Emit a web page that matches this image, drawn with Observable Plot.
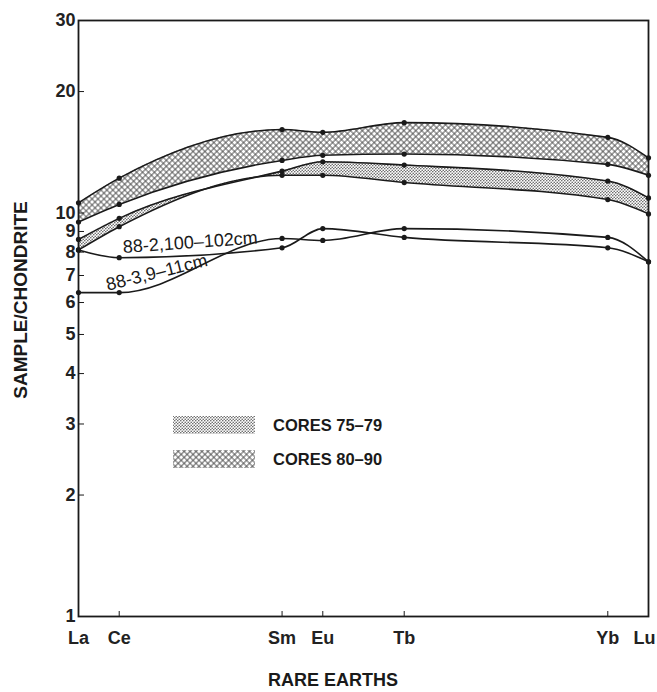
<!DOCTYPE html>
<html><head><meta charset="utf-8">
<script src="https://cdn.jsdelivr.net/npm/d3@7"></script>
<script src="https://cdn.jsdelivr.net/npm/@observablehq/plot@0.6"></script>
<style>
body{margin:0;background:#fff;}
#chart{width:657px;height:692px;}
svg [aria-label="x-axis tick label"] text{font-size:18px;font-weight:bold;fill:#222;}
</style></head><body><div id="chart"></div>
<script>
// Rare earth elements and their atomic numbers (x positions)
const elements = ["La", "Ce", "Sm", "Eu", "Tb", "Yb", "Lu"];
const atomic = [57, 58, 62, 63, 65, 70, 71];
// Cores 80-90 envelope (crosshatch band)
const cores8090Upper = [10.6, 12.2, 16.1, 15.85, 16.75, 15.4, 13.7];
const cores8090Lower = [9.5, 10.5, 13.5, 13.9, 14.0, 13.2, 12.4];
// Cores 75-79 envelope (stippled band)
const cores7579Upper = [8.6, 9.7, 12.7, 13.4, 13.15, 12.0, 10.9];
const cores7579Lower = [8.1, 9.25, 12.4, 12.4, 11.9, 10.8, 9.95];
// Individual samples
const s88_2 = [8.1, 7.75, 8.2, 9.15, 8.7, 8.2, 7.57];
const s88_3 = [6.35, 6.35, 8.65, 8.55, 9.15, 8.7, 7.57];
// Axis ticks
const yTicks = [1, 2, 3, 4, 5, 6, 7, 8, 9, 10, 20, 30];
// Texts
const legendLabels = ["CORES 75–79", "CORES 80–90"];
const lineLabels = [
  {text: "88-2,100–102cm", x: 58.1, y: 7.96, rotate: -4},
  {text: "88-3,9–11cm", x: 57.72, y: 6.42, rotate: -14}
];

const table = elements.map((el, i) => ({
  el, z: atomic[i],
  u80: cores8090Upper[i], l80: cores8090Lower[i],
  u75: cores7579Upper[i], l75: cores7579Lower[i],
  a: s88_2[i], b: s88_3[i]
}));
const seriesKeys = ["u80", "l80", "u75", "l75", "a", "b"];
const long = seriesKeys.flatMap(k => table.map(d => ({key: k, z: d.z, v: d[k]})));

const ink = "#1a1a1a";
const font = "'Liberation Sans', Arial, sans-serif";
const plot = Plot.plot({
  width: 657, height: 692,
  marginTop: 20, marginBottom: 76, marginLeft: 78, marginRight: 9,
  style: {fontFamily: font, background: "#fff", color: ink},
  x: {domain: [57, 71]},
  y: {type: "log", domain: [1, 30]},
  marks: [
    Plot.areaY(table, {x: "z", y1: "l80", y2: "u80", curve: "monotone-x", fill: "url(#hatch80)"}),
    Plot.areaY(table, {x: "z", y1: "l75", y2: "u75", curve: "monotone-x", fill: "url(#stip75)"}),
    Plot.line(long, {x: "z", y: "v", z: "key", curve: "monotone-x", stroke: ink, strokeWidth: 1.6}),
    Plot.dot(long, {x: "z", y: "v", r: 2.6, fill: ink, stroke: "none"}),
    Plot.text(lineLabels, {x: "x", y: "y", text: "text", rotate: "rotate", textAnchor: "start", lineAnchor: "bottom", fontSize: 18, fill: ink}),
    Plot.frame({stroke: ink, strokeWidth: 1.8}),
    Plot.axisX({ticks: atomic, tickFormat: z => elements[atomic.indexOf(z)], tickSize: -5, tickPadding: 20, label: null, fontSize: 18, fontWeight: "bold"}),
    Plot.axisY({ticks: yTicks, tickFormat: () => "", tickSize: -6, tickPadding: 9, label: null}),
    Plot.text(yTicks, {y: d => d, frameAnchor: "left", text: d => String(d), textAnchor: "end", dx: -3, fontSize: 18, fontWeight: "bold", fill: "#222"})
  ]
});

const svg = d3.select(plot);
const defs = svg.insert("defs", ":first-child");
const h = defs.append("pattern").attr("id", "hatch80").attr("patternUnits", "userSpaceOnUse")
  .attr("width", 4.2).attr("height", 4.2).attr("patternTransform", "rotate(45)");
h.append("rect").attr("width", 4.2).attr("height", 4.2).attr("fill", "#fff");
h.append("path").attr("d", "M0,0H4.2M0,4.2H4.2M0,0V4.2M4.2,0V4.2").attr("stroke", "#4a4a4a").attr("stroke-width", 0.9);
const s = defs.append("pattern").attr("id", "stip75").attr("patternUnits", "userSpaceOnUse")
  .attr("width", 3).attr("height", 3);
s.append("rect").attr("width", 3).attr("height", 3).attr("fill", "#fff");
s.append("circle").attr("cx", 0.75).attr("cy", 0.75).attr("r", 0.8).attr("fill", "#666");
s.append("circle").attr("cx", 2.25).attr("cy", 2.25).attr("r", 0.8).attr("fill", "#666");

// Nudge the last x tick label so it stays inside the page
svg.selectAll('[aria-label="x-axis tick label"] text').filter(function() { return this.textContent === "Lu"; })
  .attr("dx", -4);

// Legend
const lg = svg.append("g").attr("font-family", font).attr("text-anchor", "start")
  .attr("font-weight", "bold").attr("font-size", 16.5).attr("fill", ink);
["stip75", "hatch80"].forEach((p, i) => {
  lg.append("rect").attr("x", 173).attr("y", 416 + i * 34).attr("width", 82).attr("height", 18)
    .attr("fill", `url(#${p})`);
  lg.append("text").attr("x", 273).attr("y", 425 + i * 34).attr("dy", "0.35em").text(legendLabels[i]);
});
// Axis titles
svg.append("text").attr("x", 333).attr("y", 680).attr("dy", "0.35em").attr("text-anchor", "middle")
  .attr("font-size", 18).attr("font-weight", "bold").attr("fill", ink)
  .attr("font-family", font).text("RARE EARTHS");
svg.append("text").attr("transform", "translate(20,300) rotate(-90)").attr("dy", "0.35em")
  .attr("text-anchor", "middle").attr("font-size", 19).attr("font-weight", "bold").attr("fill", ink)
  .attr("font-family", font).text("SAMPLE/CHONDRITE");

document.getElementById("chart").appendChild(plot);
</script></body></html>
